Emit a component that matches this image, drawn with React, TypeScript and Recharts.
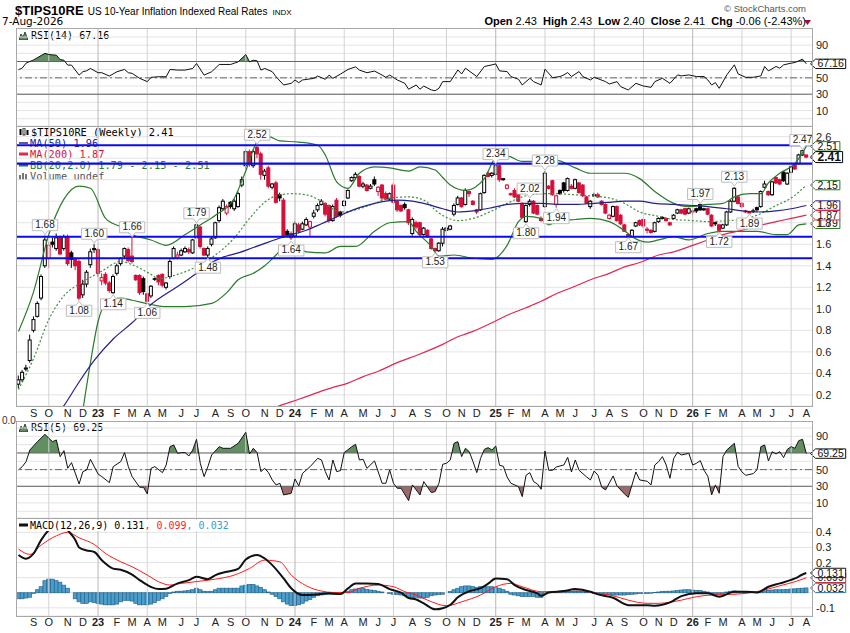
import React from "react";
import {
  ComposedChart,
  Line,
  Area,
  Bar,
  Scatter,
  XAxis,
  YAxis,
  CartesianGrid,
  ReferenceLine,
  ReferenceDot,
} from "recharts";

const RED = "#d4103a";
const NAVY = "#22228a";
const MA200_RED = "#e0284e";
const BB_GREEN = "#2c7a2c";
const LEVEL_BLUE = "#0a0af0";
const HIST_BLUE = "#4b9dcc";
const AXIS_FONT = "'Liberation Sans', Arial, sans-serif";
const MONO_FONT = "'DejaVu Sans Mono', monospace";

const FIRST_BAR_UTC = Date.UTC(2022, 7, 12);
const DAY_MS = 86400000;
const monthLetters = ["J", "F", "M", "A", "M", "J", "J", "A", "S", "O", "N", "D"];
const X_DOMAIN: [number, number] = [-0.66, 209.5];

// weekly bars: [open, high, low, close]
const weeklyBars = [
  [0.30,0.38,0.26,0.34],[0.34,0.43,0.32,0.41],[0.44,0.48,0.42,0.45],[0.52,0.76,0.50,0.71],[0.80,0.93,0.78,0.90],[0.93,1.07,0.92,1.05],[1.10,1.32,1.08,1.30],[1.40,1.68,1.38,1.64],[1.47,1.62,1.38,1.59],[1.62,1.66,1.57,1.60],
  [1.56,1.70,1.54,1.66],[1.66,1.68,1.50,1.51],[1.56,1.69,1.54,1.67],[1.67,1.69,1.40,1.42],[1.52,1.54,1.38,1.46],[1.46,1.48,1.36,1.40],[1.44,1.46,1.08,1.10],[1.13,1.27,1.10,1.23],[1.23,1.36,1.20,1.34],[1.41,1.56,1.38,1.53],
  [1.55,1.60,1.52,1.56],[1.55,1.56,1.30,1.33],[1.26,1.33,1.22,1.29],[1.32,1.34,1.22,1.24],[1.24,1.26,1.15,1.17],[1.15,1.32,1.14,1.30],[1.33,1.42,1.31,1.40],[1.42,1.48,1.40,1.47],[1.49,1.57,1.47,1.56],[1.55,1.57,1.43,1.45],
  [1.49,1.66,1.42,1.44],[1.31,1.32,1.26,1.27],[1.31,1.32,1.13,1.15],[1.28,1.30,1.13,1.16],[1.14,1.15,1.06,1.07],[1.12,1.22,1.10,1.21],[1.28,1.29,1.26,1.28],[1.31,1.32,1.22,1.25],[1.32,1.33,1.20,1.22],[1.20,1.25,1.18,1.24],
  [1.30,1.46,1.28,1.44],[1.47,1.58,1.46,1.56],[1.48,1.53,1.46,1.50],[1.50,1.56,1.49,1.54],[1.53,1.58,1.52,1.56],[1.55,1.57,1.51,1.53],[1.52,1.65,1.51,1.64],[1.66,1.79,1.65,1.78],[1.76,1.77,1.56,1.58],[1.56,1.57,1.49,1.50],
  [1.50,1.58,1.48,1.56],[1.60,1.67,1.58,1.65],[1.66,1.81,1.65,1.80],[1.82,1.96,1.80,1.94],[1.93,2.02,1.92,2.00],[1.89,1.97,1.87,1.95],[1.99,2.00,1.93,1.95],[1.93,2.02,1.91,2.00],[1.95,2.09,1.94,2.07],[2.15,2.23,2.13,2.20],
  [2.33,2.48,2.30,2.46],[2.46,2.48,2.32,2.34],[2.33,2.48,2.31,2.46],[2.50,2.52,2.40,2.44],[2.44,2.46,2.20,2.25],[2.24,2.30,2.20,2.28],[2.31,2.33,2.12,2.14],[2.13,2.17,2.11,2.16],[2.17,2.19,1.98,1.99],[2.06,2.08,2.00,2.03],
  [2.01,2.03,1.66,1.67],[1.72,1.74,1.67,1.69],[1.70,1.72,1.64,1.66],[1.68,1.81,1.66,1.79],[1.78,1.80,1.70,1.72],[1.74,1.81,1.73,1.79],[1.78,1.85,1.77,1.83],[1.76,1.82,1.67,1.81],[1.86,1.92,1.84,1.89],[1.92,1.98,1.90,1.96],
  [1.97,2.02,1.96,2.00],[1.98,1.99,1.86,1.88],[1.96,1.97,1.80,1.82],[1.82,1.97,1.81,1.95],[2.01,2.03,1.85,1.86],[1.90,1.91,1.85,1.87],[1.96,2.01,1.95,2.00],[2.03,2.11,2.02,2.10],[2.19,2.23,2.18,2.22],[2.22,2.27,2.20,2.25],
  [2.23,2.24,2.13,2.14],[2.14,2.18,2.12,2.16],[2.15,2.16,2.09,2.10],[2.12,2.16,2.11,2.14],[2.20,2.23,2.14,2.16],[2.09,2.14,2.05,2.13],[2.15,2.16,2.01,2.03],[2.07,2.09,2.01,2.02],[2.02,2.08,2.01,2.07],[2.15,2.17,1.98,1.99],
  [2.00,2.01,1.90,1.92],[1.96,1.97,1.90,1.91],[1.97,1.99,1.92,1.94],[1.92,1.93,1.78,1.80],[1.70,1.85,1.68,1.83],[1.80,1.82,1.74,1.76],[1.80,1.81,1.68,1.69],[1.69,1.76,1.68,1.75],[1.73,1.74,1.66,1.67],[1.65,1.66,1.55,1.56],
  [1.56,1.57,1.53,1.54],[1.54,1.62,1.53,1.61],[1.61,1.76,1.58,1.74],[1.73,1.76,1.71,1.75],[1.74,1.78,1.73,1.77],[1.88,1.98,1.86,1.96],[1.97,2.05,1.96,2.03],[2.03,2.04,1.94,1.95],[1.97,2.12,1.96,2.10],[2.09,2.10,2.04,2.07],
  [2.00,2.01,1.96,1.97],[1.92,1.93,1.88,1.90],[1.92,2.08,1.91,2.07],[2.08,2.25,2.07,2.24],[2.26,2.28,2.22,2.23],[2.24,2.27,2.22,2.26],[2.25,2.34,2.24,2.33],[2.33,2.34,2.18,2.20],[2.20,2.21,2.19,2.21],[2.12,2.16,2.11,2.15],
  [2.07,2.08,2.05,2.06],[2.10,2.12,2.03,2.04],[2.07,2.08,1.99,2.00],[1.98,1.99,1.84,1.85],[1.81,1.97,1.80,1.96],[1.97,2.02,1.95,2.00],[2.00,2.01,1.88,1.89],[1.96,1.97,1.87,1.88],[1.84,1.86,1.81,1.82],[1.95,2.28,1.94,2.26],
  [2.14,2.15,2.11,2.12],[2.19,2.20,2.05,2.06],[1.97,2.06,1.94,2.05],[2.10,2.11,2.06,2.07],[2.17,2.18,2.08,2.10],[2.10,2.22,2.09,2.21],[2.14,2.16,2.11,2.12],[2.12,2.21,2.11,2.20],[2.17,2.18,2.07,2.08],[2.15,2.16,2.04,2.05],
  [2.04,2.05,1.98,1.98],[1.95,2.01,1.93,2.00],[2.06,2.08,2.04,2.05],[2.06,2.08,2.03,2.04],[2.00,2.01,1.96,1.97],[1.97,1.98,1.88,1.89],[1.84,1.88,1.83,1.87],[1.86,1.96,1.85,1.95],[1.95,1.96,1.81,1.82],[1.87,1.88,1.78,1.79],
  [1.78,1.79,1.72,1.72],[1.69,1.70,1.67,1.68],[1.67,1.74,1.67,1.73],[1.77,1.81,1.76,1.80],[1.82,1.83,1.77,1.78],[1.83,1.84,1.75,1.77],[1.74,1.76,1.70,1.73],[1.73,1.74,1.70,1.71],[1.72,1.81,1.71,1.80],[1.81,1.85,1.80,1.84],
  [1.84,1.86,1.83,1.85],[1.84,1.85,1.81,1.82],[1.80,1.81,1.77,1.78],[1.84,1.88,1.83,1.87],[1.89,1.93,1.88,1.92],[1.92,1.93,1.88,1.89],[1.93,1.94,1.87,1.88],[1.89,1.94,1.88,1.93],[1.91,1.92,1.87,1.90],[1.93,1.94,1.89,1.91],
  [1.97,1.97,1.91,1.92],[1.92,1.94,1.91,1.93],[1.93,1.94,1.87,1.88],[1.87,1.88,1.76,1.77],[1.80,1.81,1.77,1.79],[1.78,1.79,1.72,1.73],[1.75,1.79,1.74,1.78],[1.78,1.91,1.77,1.90],[1.90,2.01,1.89,2.00],[2.00,2.13,1.99,2.12],
  [2.04,2.05,1.97,1.98],[1.98,1.99,1.94,1.95],[1.91,1.92,1.89,1.90],[1.90,1.91,1.89,1.89],[1.91,1.93,1.89,1.91],[1.94,1.95,1.90,1.92],[1.95,2.10,1.94,2.09],[2.13,2.19,2.12,2.16],[2.09,2.10,2.05,2.06],[2.06,2.19,2.05,2.18],
  [2.22,2.23,2.16,2.17],[2.20,2.21,2.15,2.16],[2.27,2.28,2.18,2.19],[2.16,2.27,2.15,2.26],[2.27,2.33,2.26,2.32],[2.34,2.35,2.29,2.30],[2.35,2.44,2.34,2.43],[2.43,2.47,2.42,2.47],[2.43,2.43,2.40,2.41],
];

const levelLines = [2.52, 2.35, 1.67, 1.47];

// overlays as [week index, value]
const ma50Points = [[11,0.05],[12,0.1],[16,0.32],[20,0.52],[25,0.72],[30,0.87],[35,1.04],[39,1.14],[43,1.23],[47,1.33],[50,1.41],[54,1.48],[58,1.52],[62,1.57],[66,1.62],[70,1.67],[76,1.73],[80,1.79],[85,1.87],[90,1.94],[94,1.98],[100,2.01],[104,2.0],[108,1.97],[112,1.93],[116,1.9],[120,1.91],[125,1.94],[129,1.97],[134,1.98],[138,1.98],[143,1.97],[147,1.97],[152,1.98],[156,1.99],[160,2.0],[164,2.0],[168,1.98],[173,1.97],[178,1.96],[182,1.95],[187,1.93],[191,1.91],[195,1.9],[200,1.91],[204,1.93],[208,1.96]];
const ma200Points = [[66,0.06],[69,0.1],[74,0.16],[78,0.21],[83,0.27],[87,0.31],[91,0.37],[95,0.42],[100,0.5],[106,0.58],[112,0.67],[116,0.74],[120,0.79],[125,0.87],[129,0.94],[134,1.01],[138,1.07],[142,1.14],[147,1.21],[151,1.27],[156,1.33],[160,1.39],[164,1.43],[169,1.5],[173,1.53],[178,1.59],[182,1.64],[186,1.69],[191,1.73],[195,1.77],[200,1.81],[204,1.84],[208,1.87]];
const bbMidPoints = [[0,0.25],[4,0.54],[8,0.9],[12,1.12],[17,1.25],[22,1.35],[27,1.44],[30,1.41],[35,1.32],[37,1.28],[42,1.32],[48,1.41],[52,1.5],[57,1.66],[61,1.84],[65,1.99],[68,2.05],[72,2.07],[76,2.06],[80,2.0],[85,1.9],[89,1.92],[94,1.98],[98,2.03],[103,2.04],[107,2.01],[111,1.89],[116,1.82],[120,1.84],[125,1.91],[129,1.98],[133,2.04],[138,2.07],[142,2.07],[147,2.06],[151,2.05],[156,2.03],[160,1.98],[164,1.9],[169,1.86],[173,1.83],[178,1.82],[182,1.81],[187,1.82],[191,1.83],[195,1.87],[200,1.96],[204,2.03],[208,2.15]];
const bbUpperPoints = [[0,0.79],[4,1.16],[8,1.69],[12,2.02],[16,2.14],[19,2.12],[23,1.84],[27,1.76],[30,1.69],[35,1.64],[39,1.59],[44,1.69],[48,1.78],[52,1.87],[57,2.03],[60,2.28],[63,2.55],[66,2.6],[69,2.56],[74,2.55],[79,2.52],[81,2.43],[84,2.18],[87,2.12],[90,2.26],[94,2.32],[98,2.31],[103,2.28],[106,2.32],[110,2.29],[112,2.22],[114,2.15],[118,2.1],[123,2.21],[126,2.4],[129,2.42],[133,2.37],[138,2.37],[142,2.38],[147,2.31],[151,2.26],[156,2.26],[160,2.26],[164,2.21],[168,2.09],[173,1.98],[177,1.95],[182,1.97],[186,1.98],[189,2.04],[193,2.07],[196,2.07],[198,2.17],[201,2.26],[205,2.35],[208,2.51]];
const bbLowerPoints = [[17,0.06],[19,0.5],[21,0.88],[23,1.05],[27,1.1],[30,1.08],[35,1.04],[39,1.02],[44,1.02],[51,1.05],[55,1.15],[58,1.27],[62,1.33],[65,1.4],[68,1.5],[70,1.57],[72,1.58],[76,1.53],[81,1.52],[85,1.58],[89,1.58],[94,1.72],[98,1.8],[103,1.81],[105,1.72],[109,1.58],[111,1.49],[115,1.5],[120,1.47],[125,1.46],[129,1.59],[132,1.81],[134,1.86],[138,1.84],[140,1.78],[142,1.81],[147,1.83],[151,1.84],[156,1.81],[159,1.75],[163,1.65],[166,1.62],[169,1.64],[173,1.67],[177,1.64],[182,1.7],[186,1.72],[191,1.72],[195,1.72],[200,1.69],[203,1.69],[206,1.78],[208,1.79]];

const rsi14Points = [[0,60],[1,62],[2,68],[4,72],[7,80],[8,78.5],[10,77.7],[11,72.4],[12,71.6],[13,65.6],[14,65.6],[16,53.4],[17,57.5],[18,58.7],[19,61.5],[21,56.3],[22,56.3],[24,52.2],[26,57.5],[28,60.3],[29,56.3],[30,55.5],[32,49.4],[34,45.4],[35,50.6],[37,51.4],[39,51.4],[40,60.3],[42,59.5],[44,59.5],[46,61.5],[47,67.6],[49,53.4],[51,57.5],[53,66.4],[56,66.4],[58,69.6],[60,78.5],[61,69.6],[62,71.6],[63,70.8],[64,59.5],[65,61.5],[67,57.5],[68,51.4],[70,41.3],[72,43.3],[73,47.4],[74,44.1],[75,47.4],[78,49.4],[79,52.2],[81,48.2],[82,53.4],[83,49.4],[85,54.6],[87,60.3],[89,63.5],[90,59.5],[92,56.3],[94,58.3],[96,53.4],[97,50.6],[98,53.4],[100,47.4],[101,45.4],[102,43.3],[103,36.1],[105,41.3],[106,36.1],[107,40],[109,35.2],[110,34.3],[111,37.2],[112,45.4],[114,45.4],[116,59.7],[117,54.8],[118,61.8],[121,51.6],[123,63.9],[125,65.9],[126,67.1],[127,58.5],[129,57.7],[130,51.6],[132,48.3],[133,41.3],[135,49.5],[136,45.4],[138,41.3],[139,60.6],[141,50.3],[143,51.6],[144,53.6],[145,56.5],[146,51.6],[148,57.7],[149,51.6],[151,47.4],[152,50.7],[155,45.4],[156,42.5],[158,45.4],[159,39.2],[161,35.2],[163,43.3],[165,40],[167,38.4],[168,45.4],[170,49.5],[172,43.3],[174,53.6],[175,52.4],[177,53.6],[179,51.6],[181,51.6],[182,47.4],[183,41.3],[184,44.2],[185,37.2],[187,53.6],[189,65.9],[190,54.8],[192,50.7],[194,50.7],[196,52.4],[197,63.9],[198,58.5],[200,63.9],[201,61.8],[202,65.9],[204,68],[205,68.8],[206,70.8],[207,72.9],[208,67.16]];
const rsi5Points = [[0,49.6],[1,53.6],[2,59.6],[3,73.6],[5,83.6],[7,92.4],[8,87.6],[9,83.6],[10,85.6],[11,65.6],[12,72.8],[13,51.6],[14,58.4],[16,32.8],[17,47.6],[18,49.6],[19,62.4],[21,44.8],[22,41.6],[24,34.4],[25,53.6],[27,59.6],[28,70.4],[29,53.6],[30,41.6],[32,28.8],[33,28.8],[34,20.8],[35,51.6],[36,53.6],[38,46.4],[39,55.6],[40,77.6],[41,79.6],[42,69.6],[43,70.4],[44,70.4],[45,66.4],[46,73.6],[47,86.4],[48,57.6],[49,41.6],[50,53.6],[51,67.6],[53,77.6],[54,75.6],[56,75.6],[58,81.6],[60,94.8],[61,68.8],[62,75.6],[63,70.4],[64,47.6],[65,51.6],[66,46.4],[67,37.6],[68,31.6],[69,33.6],[70,19.6],[72,21.6],[73,38.8],[74,30.4],[75,45.6],[77,53.6],[79,63.6],[80,61.6],[81,47.6],[82,37.6],[83,61.6],[84,47.6],[85,48.8],[86,70.4],[88,77.6],[89,80.4],[90,61.6],[91,62.4],[92,51.6],[94,60.4],[96,33.6],[97,33.6],[98,49.6],[99,33.6],[100,27.6],[101,27.6],[103,12.8],[104,31.6],[106,19.6],[107,35.6],[109,22.4],[110,23.6],[111,33.6],[112,56.4],[113,57.6],[114,61.6],[115,81.6],[116,83.6],[117,65.6],[118,75.6],[119,71.6],[120,59.6],[121,46.4],[122,63.6],[123,74.4],[124,76.4],[125,73.6],[126,78.4],[127,55.2],[128,54],[129,41.2],[130,33.6],[132,29.6],[133,17.6],[134,43.2],[135,46.4],[136,35.6],[137,32.8],[138,26.4],[139,72.4],[140,49.2],[141,49.2],[142,53.2],[144,55.6],[145,64.8],[146,47.2],[147,61.6],[148,49.2],[150,41.2],[151,37.6],[152,48.4],[153,43.2],[154,28.8],[155,25.6],[157,42.4],[158,30.4],[160,20.8],[161,16.8],[163,47.2],[164,37.6],[166,36],[167,31.6],[168,55.6],[169,59.6],[170,65.6],[171,55.6],[172,39.6],[173,63.6],[174,70.8],[175,67.6],[177,69.6],[178,55.6],[179,57.6],[180,60.8],[181,49.2],[182,42],[183,19.6],[184,31.6],[185,21.6],[186,65.6],[187,73.6],[189,81.6],[190,54],[191,47.2],[192,43.2],[194,45.2],[195,50],[196,77.6],[197,79.6],[198,60.4],[199,71.6],[200,68.8],[201,71.6],[202,64.4],[203,74.4],[204,77.6],[205,75.6],[206,84.8],[207,86.4],[208,69.25]];

const macdPoints = [[0,0.25],[2,0.225],[4,0.26],[6,0.35],[8,0.415],[10,0.45],[12,0.45],[13,0.415],[15,0.35],[16,0.3],[18,0.28],[20,0.27],[22,0.215],[25,0.16],[27,0.152],[30,0.12],[32,0.084],[35,0.038],[37,0.024],[39,0.027],[42,0.062],[45,0.084],[47,0.106],[50,0.09],[52,0.117],[55,0.139],[58,0.158],[60,0.22],[63,0.25],[65,0.227],[67,0.183],[70,0.095],[72,0.03],[75,-0.015],[78,-0.013],[82,-0.004],[85,-0.008],[87,0.029],[89,0.062],[92,0.062],[95,0.058],[98,0.024],[101,0.0],[103,-0.035],[105,-0.045],[107,-0.07],[110,-0.11],[114,-0.08],[116,-0.03],[119,0.01],[122,0.03],[124,0.06],[126,0.095],[129,0.09],[131,0.05],[134,0.018],[137,-0.004],[138,-0.02],[140,0.002],[144,0.011],[147,0.024],[151,0.007],[153,-0.011],[157,-0.033],[161,-0.082],[166,-0.082],[168,-0.086],[172,-0.064],[175,-0.022],[179,-0.004],[182,-0.004],[185,-0.026],[189,0.007],[192,0.007],[195,0.002],[198,0.04],[201,0.062],[205,0.095],[207,0.121],[208,0.131]];
const signalPoints = [[0,0.289],[3,0.254],[6,0.316],[10,0.377],[13,0.4],[16,0.364],[20,0.32],[23,0.26],[27,0.205],[30,0.172],[34,0.117],[37,0.073],[40,0.051],[43,0.062],[48,0.077],[52,0.09],[57,0.117],[61,0.161],[65,0.216],[69,0.205],[72,0.117],[76,0.046],[80,0.011],[83,0.002],[87,0.002],[90,0.029],[95,0.051],[99,0.04],[102,0.007],[105,-0.015],[108,-0.049],[113,-0.086],[117,-0.06],[122,-0.015],[126,0.04],[130,0.062],[133,0.04],[138,0.007],[144,0.007],[148,0.011],[153,-0.004],[157,-0.02],[161,-0.049],[166,-0.07],[169,-0.07],[175,-0.049],[179,-0.026],[183,-0.015],[188,-0.011],[192,-0.004],[197,0.018],[201,0.046],[205,0.073],[208,0.099]];
const histValues = [
  -0.04,-0.04,-0.035,-0.03,-0.005,0.02,0.04,0.08,0.09,0.09,
  0.08,0.07,0.05,0.03,0.0,-0.04,-0.06,-0.07,-0.07,-0.06,
  -0.065,-0.07,-0.075,-0.08,-0.08,-0.08,-0.075,-0.06,-0.05,-0.05,
  -0.055,-0.07,-0.08,-0.08,-0.08,-0.075,-0.065,-0.05,-0.04,-0.025,
  -0.005,0.005,0.01,0.01,0.012,0.015,0.02,0.03,0.02,0.01,
  0.008,0.01,0.02,0.03,0.03,0.03,0.03,0.03,0.03,0.045,
  0.05,0.055,0.055,0.045,0.035,0.02,0.005,-0.01,-0.025,-0.04,
  -0.06,-0.075,-0.085,-0.085,-0.08,-0.07,-0.055,-0.045,-0.03,-0.02,
  -0.015,-0.012,-0.01,-0.01,-0.01,-0.008,0.0,0.01,0.02,0.025,
  0.03,0.03,0.022,0.018,0.015,0.01,0.005,0.0,-0.005,-0.01,
  -0.012,-0.015,-0.02,-0.03,-0.033,-0.03,-0.035,-0.035,-0.03,-0.02,
  -0.015,-0.012,-0.01,0.0,0.008,0.02,0.03,0.04,0.045,0.045,
  0.04,0.035,0.04,0.04,0.04,0.04,0.035,0.03,0.02,0.01,
  -0.01,-0.015,-0.02,-0.025,-0.025,-0.025,-0.025,-0.03,-0.03,-0.005,
  0.0,0.005,0.008,0.01,0.01,0.01,0.01,0.012,0.01,0.01,
  0.005,0.0,-0.005,-0.008,-0.01,-0.012,-0.012,-0.015,-0.015,-0.015,
  -0.015,-0.012,-0.01,-0.008,-0.005,-0.005,-0.005,-0.003,0.002,0.005,
  0.008,0.01,0.01,0.012,0.015,0.018,0.02,0.02,0.018,0.015,
  0.015,0.01,0.005,-0.005,-0.01,-0.01,-0.005,0.005,0.01,0.012,
  0.01,0.008,0.005,0.005,0.005,0.005,0.008,0.012,0.015,0.018,
  0.02,0.02,0.02,0.022,0.025,0.026,0.028,0.03,0.032,
];

// swing labels: [week, value, side]
const callouts = [
  [7,1.68,"up"],[20,1.6,"up"],[30,1.66,"up"],[16,1.08,"down"],[25,1.14,"down"],[34,1.06,"down"],
  [47,1.79,"up"],[50,1.48,"down"],[63,2.52,"up"],[72,1.64,"down"],[110,1.53,"down"],[126,2.34,"up"],
  [134,1.8,"down"],[135,2.02,"up"],[139,2.28,"up"],[142,1.94,"down"],[161,1.67,"down"],[180,1.97,"up"],
  [185,1.72,"down"],[189,2.13,"up"],[193,1.89,"down"],[207,2.47,"up"],
];

// axis labels (those hidden behind the value tags on the right are left out)
const priceTicks = [0.2,0.4,0.6,0.8,1.0,1.2,1.4,1.6,1.8,2.0,2.2,2.4,2.6];
const priceTickLabels = ["0.2","0.4","0.6","0.8","1.0","1.2","1.4","1.6","1.8","","","","2.6"];
const rsiTicks = [0,10,20,30,40,50,60,70,80,90,100];
const rsiTickLabels = ["","10","","30","","50","","","","90",""];
const macdTicks = [-0.1,0,0.1,0.2,0.3,0.4];
const macdTickLabels = ["-0.1","","","0.2","0.3","0.4"];

const barRows = weeklyBars.map(([o, h, l, c], i) => ({
  i, o, h, l, c, range: [l, h], prev: i > 0 ? weeklyBars[i - 1][3] : o,
}));
const toRows = (pts: number[][]) => pts.map(([i, v]) => ({ i, v }));
const histRows = histValues.map((v, i) => ({ i, v }));
const calloutRows = callouts.map(([i, v, side]) => ({ i, v, t: (v as number).toFixed(2), up: side === "up" }));

const monthTicks: { i: number; label: string; year: boolean; quarter: boolean }[] = [];
weeklyBars.forEach((_, i) => {
  if (i === 0) return;
  const mon = new Date(FIRST_BAR_UTC + (i * 7 - 4) * DAY_MS);
  const prevMon = new Date(FIRST_BAR_UTC + ((i - 1) * 7 - 4) * DAY_MS);
  const m = mon.getUTCMonth();
  if (m !== prevMon.getUTCMonth()) {
    monthTicks.push({
      i,
      label: m === 0 ? String(mon.getUTCFullYear() % 100) : monthLetters[m],
      year: m === 0,
      quarter: m % 3 === 0,
    });
  }
});
const tickInfo = new Map(monthTicks.map((t) => [t.i, t]));
const tickIdx = monthTicks.map((t) => t.i);
const quarterTicks = monthTicks.filter((t) => t.quarter);

function MonthTick(props: any) {
  const { x, y, payload, dy } = props;
  const info = tickInfo.get(payload.value);
  if (!info) return null;
  return (
    <text x={x} y={y + dy} textAnchor="middle" fontSize={11} fontFamily={AXIS_FONT}
      fontWeight={info.year ? 700 : 400} fill="#222">
      {info.label}
    </text>
  );
}

function Candle(props: any) {
  const { x, y, width, height, payload } = props;
  if (x == null || y == null || !payload) return null;
  const { o, h, l, c, prev } = payload;
  const cx = x + width / 2;
  const span = h - l || 1;
  const py = (v: number) => y + ((h - v) / span) * height;
  const color = c >= prev ? "#000" : RED;
  const top = py(Math.max(o, c));
  const bot = py(Math.min(o, c));
  return (
    <g>
      <line x1={cx} x2={cx} y1={y} y2={y + height} stroke={color} strokeWidth={1} />
      <rect x={cx - 1.5} y={top} width={3} height={Math.max(bot - top, 0.6)}
        fill={c > o ? "#fff" : color} stroke={color} strokeWidth={1} />
    </g>
  );
}

function HistBar(props: any) {
  const { x, y, width, height } = props;
  if (x == null || !height) return null;
  const cx = x + width / 2;
  const top = Math.min(y, y + height);
  return <rect x={cx - 1.9} y={top} width={3.8} height={Math.abs(height)} fill={HIST_BLUE} stroke="#25678e" strokeWidth={0.7} />;
}

function Callout(props: any) {
  const { cx, cy, payload } = props;
  if (cx == null) return null;
  const w = payload.t.length * 5.6 + 3;
  const hh = 11;
  const l = cx - w / 2;
  const r = cx + w / 2;
  let d: string;
  let ty: number;
  if (payload.up) {
    const b = cy - 5;
    d = `M${l},${b - hh} H${r} V${b} H${cx + 3} L${cx},${cy - 1} L${cx - 3},${b} H${l} Z`;
    ty = b - 2.5;
  } else {
    const t = cy + 5;
    d = `M${l},${t} H${cx - 3} L${cx},${cy + 1} L${cx + 3},${t} H${r} V${t + hh} H${l} Z`;
    ty = t + hh - 2.5;
  }
  return (
    <g>
      <path d={d} fill="#fff" stroke="#bdbdbd" strokeWidth={1} />
      <text x={cx} y={ty} textAnchor="middle" fontSize={10} fontFamily={AXIS_FONT} fill="#222">{payload.t}</text>
    </g>
  );
}

function PriceTag({ cy, text, color, bold }: any) {
  if (cy == null) return null;
  const x0 = 810.5;
  const w = text.replace(".", "").length * (bold ? 6.7 : 5.8) + 3 + 4;
  const hh = bold ? 5.5 : 4.7;
  return (
    <g>
      <path d={`M${x0},${cy} L${x0 + 5},${cy - hh} H${x0 + 5 + w} V${cy + hh} H${x0 + 5} Z`}
        fill="#fff" stroke={color} strokeWidth={1} />
      <text x={x0 + 7} y={cy + (bold ? 4.2 : 3.6)} fontSize={bold ? 12 : 10.5} fontWeight={bold ? 700 : 400}
        fontFamily={AXIS_FONT} fill="#111">{text}</text>
    </g>
  );
}

const tag = (y: number, text: string, color: string, bold = false) => (
  <ReferenceDot key={text + color} x={208} y={y} r={0} ifOverflow="visible"
    shape={(p: any) => <PriceTag cy={p.cy} text={text} color={color} bold={bold} />} />
);

const yTick = (ticks: number[], labels: string[]) => (p: any) => {
  const s = labels[ticks.indexOf(p.payload.value)];
  if (!s) return null;
  return (
    <text x={p.x} y={p.y + 4} textAnchor="start" fontSize={11} fontFamily={AXIS_FONT} fill="#222">{s}</text>
  );
};

const quarterLines = () =>
  quarterTicks.map((t) => (
    <ReferenceLine key={"q" + t.i} x={t.i} stroke={t.year ? "#b8b8b8" : "#d2d2d2"} strokeWidth={1} />
  ));

function RsiPanel({ rows, dMin, dMax, height, id, last, lastText }: any) {
  const y70 = ((dMax - 70) / (dMax - dMin)) * height;
  const y30 = ((dMax - 30) / (dMax - dMin)) * height;
  return (
    <ComposedChart width={850} height={height} data={rows} margin={{ top: 0, right: 0, bottom: 0, left: 16 }}>
      <defs>
        <linearGradient id={id + "up"} gradientUnits="userSpaceOnUse" x1="0" y1="0" x2="0" y2={height}>
          <stop offset={y70 / height} stopColor="#628f62" />
          <stop offset={y70 / height} stopColor="#628f62" stopOpacity={0} />
        </linearGradient>
        <linearGradient id={id + "dn"} gradientUnits="userSpaceOnUse" x1="0" y1="0" x2="0" y2={height}>
          <stop offset={y30 / height} stopColor="#9c6a6a" stopOpacity={0} />
          <stop offset={y30 / height} stopColor="#9c6a6a" />
        </linearGradient>
      </defs>
      <CartesianGrid vertical={false} stroke="#e4e4e4" />
      {quarterLines()}
      <XAxis type="number" dataKey="i" domain={X_DOMAIN} allowDataOverflow hide />
      <YAxis orientation="right" width={38} domain={[dMin, dMax]} allowDataOverflow ticks={rsiTicks}
        interval={0} tickLine={false} axisLine={false} tickSize={0} tickMargin={4}
        tick={yTick(rsiTicks, rsiTickLabels)} />
      <Area dataKey="v" baseValue={70} type="linear" stroke="none" fill={`url(#${id}up)`} fillOpacity={1} isAnimationActive={false} />
      <Area dataKey="v" baseValue={30} type="linear" stroke="none" fill={`url(#${id}dn)`} fillOpacity={1} isAnimationActive={false} />
      <ReferenceLine y={70} stroke="#666" />
      <ReferenceLine y={50} stroke="#666" strokeDasharray="7 3 2 3" />
      <ReferenceLine y={30} stroke="#666" />
      <Line dataKey="v" type="linear" stroke="#111" strokeWidth={1} dot={false} isAnimationActive={false} />
      {tag(last, lastText, "#111")}
    </ComposedChart>
  );
}

function PriceChart() {
  return (
    <ComposedChart width={850} height={294} data={barRows} margin={{ top: 0, right: 0, bottom: 0, left: 16 }}>
      <CartesianGrid vertical={false} stroke="#e4e4e4" />
      {quarterLines()}
      <XAxis type="number" dataKey="i" domain={X_DOMAIN} allowDataOverflow ticks={tickIdx} interval={0}
        height={14} tickLine={false} axisLine={false} tickSize={0} tickMargin={0}
        tick={(p: any) => <MonthTick {...p} dy={11} />} />
      <YAxis orientation="right" width={38} domain={[0.097, 2.699]} allowDataOverflow ticks={priceTicks}
        interval={0} tickLine={false} axisLine={false} tickSize={0} tickMargin={4}
        tick={yTick(priceTicks, priceTickLabels)} />
      <Bar dataKey="range" barSize={4} shape={Candle} isAnimationActive={false} />
      <Line data={toRows(bbUpperPoints)} dataKey="v" type="monotone" stroke={BB_GREEN} strokeWidth={1.2} dot={false} isAnimationActive={false} />
      <Line data={toRows(bbLowerPoints)} dataKey="v" type="monotone" stroke={BB_GREEN} strokeWidth={1.2} dot={false} isAnimationActive={false} />
      <Line data={toRows(bbMidPoints)} dataKey="v" type="monotone" stroke="#3f8f3f" strokeWidth={1.2} strokeDasharray="2 2" dot={false} isAnimationActive={false} />
      <Line data={toRows(ma200Points)} dataKey="v" type="monotone" stroke={MA200_RED} strokeWidth={1.2} dot={false} isAnimationActive={false} />
      <Line data={toRows(ma50Points)} dataKey="v" type="monotone" stroke={NAVY} strokeWidth={1.2} dot={false} isAnimationActive={false} />
      {levelLines.map((v) => (
        <ReferenceLine key={"lv" + v} y={v} stroke={LEVEL_BLUE} strokeWidth={2.2} />
      ))}
      <Scatter data={calloutRows} dataKey="v" shape={Callout} isAnimationActive={false} />
      {tag(2.51, "2.51", BB_GREEN)}
      {tag(2.15, "2.15", BB_GREEN)}
      {tag(1.79, "1.79", BB_GREEN)}
      {tag(1.96, "1.96", NAVY)}
      {tag(1.87, "1.87", MA200_RED)}
      {tag(2.41, "2.41", "#000", true)}
    </ComposedChart>
  );
}

function MacdChart() {
  return (
    <ComposedChart width={850} height={112} data={histRows} margin={{ top: 0, right: 0, bottom: 0, left: 16 }}>
      <CartesianGrid vertical={false} stroke="#e4e4e4" />
      {quarterLines()}
      <XAxis type="number" dataKey="i" domain={X_DOMAIN} allowDataOverflow ticks={tickIdx} interval={0}
        height={14} tickLine={false} axisLine={false} tickSize={0} tickMargin={0}
        tick={(p: any) => <MonthTick {...p} dy={10} />} />
      <YAxis orientation="right" width={38} domain={[-0.154, 0.495]} allowDataOverflow ticks={macdTicks}
        interval={0} tickLine={false} axisLine={false} tickSize={0} tickMargin={4}
        tick={yTick(macdTicks, macdTickLabels)} />
      <Bar dataKey="v" barSize={4} shape={HistBar} isAnimationActive={false} />
      <Line data={toRows(signalPoints)} dataKey="v" type="monotone" stroke="#ff1a1a" strokeWidth={1} dot={false} isAnimationActive={false} />
      <Line data={toRows(macdPoints)} dataKey="v" type="monotone" stroke="#111" strokeWidth={2} dot={false} isAnimationActive={false} />
      {tag(0.099, "0.099", "#ff1a1a")}
      {tag(0.131, "0.131", "#111")}
      {tag(0.032, "0.032", "#2f6f9f")}
    </ComposedChart>
  );
}

const abs = (top: number, extra: any = {}) => ({ position: "absolute" as const, left: 0, top, ...extra });

function Box({ top, height }: { top: number; height: number }) {
  return (
    <div style={{ position: "absolute", left: 16, top, width: 797, height: height + 1, boxSizing: "border-box",
      border: "1px solid #a8a8a8", pointerEvents: "none", zIndex: 5 }} />
  );
}

const mountainIcon = (
  <svg width="9" height="8" style={{ marginRight: 3, verticalAlign: "-1px" }}>
    <polygon points="0,8 2,2 4,5 6,0 9,8" fill="#628f62" stroke="#222" strokeWidth="0.8" />
  </svg>
);
const swatch = (color: string, h = 2) => (
  <svg width="9" height="8" style={{ marginRight: 2, verticalAlign: "0px" }}>
    <rect x="0" y={4 - h / 2} width="9" height={h} fill={color} />
  </svg>
);

const legendStyle = { position: "absolute" as const, left: 19, fontFamily: MONO_FONT, fontSize: 10.3, whiteSpace: "pre" as const, lineHeight: "11px" };

export default function App() {
  return (
    <div style={{ position: "absolute", left: 0, top: 0, width: 850, height: 633, background: "#fff", overflow: "hidden" }}>
      {/* header */}
      <div style={{ position: "absolute", left: 15, top: 1, whiteSpace: "nowrap", fontFamily: AXIS_FONT, color: "#000" }}>
        <span style={{ fontSize: 13, fontWeight: 700 }}>$TIPS10RE</span>
        <span style={{ fontSize: 10, marginLeft: 4 }}>US 10-Year Inflation Indexed Real Rates</span>
        <span style={{ fontSize: 8, marginLeft: 5 }}>INDX</span>
      </div>
      <div style={{ position: "absolute", left: 2, top: 15, fontFamily: "'DejaVu Sans', sans-serif", fontSize: 10.5, color: "#000" }}>7-Aug-2026</div>
      <div style={{ position: "absolute", left: 724, top: 3, fontFamily: AXIS_FONT, fontSize: 9.5, color: "#555" }}>© StockCharts.com</div>
      <div style={{ position: "absolute", right: 44, top: 15, fontFamily: AXIS_FONT, fontSize: 11, color: "#000", whiteSpace: "pre" }}>
        <b>Open</b> 2.43  <b>High</b> 2.43  <b>Low</b> 2.40  <b>Close</b> 2.41  <b>Chg</b> -0.06 (-2.43%)
      </div>
      <svg style={{ position: "absolute", left: 804, top: 20 }} width="8" height="6">
        <polygon points="0,0 7,0 3.5,5" fill="#9e1030" />
      </svg>

      {/* legends drawn beneath the plots */}
      <div style={{ ...legendStyle, top: 30, fontSize: 10, zIndex: 1 }}>{mountainIcon}RSI(14) 67.16</div>
      <div style={{ ...legendStyle, top: 126.5, zIndex: 1 }}>
        <div>
          <svg width="10" height="8" style={{ marginRight: 2 }}>
            <rect x="0.5" y="1" width="2" height="6" fill="#000" />
            <rect x="4" y="0" width="2" height="7" fill="none" stroke="#000" strokeWidth="0.8" />
            <rect x="7.5" y="2" width="2" height="5" fill="#000" />
          </svg>
          $TIPS10RE (Weekly) 2.41
        </div>
        <div style={{ color: NAVY }}>{swatch(NAVY, 1.5)}MA(50) 1.96</div>
        <div style={{ color: RED }}>{swatch(MA200_RED, 3)}MA(200) 1.87</div>
        <div style={{ color: BB_GREEN }}>{swatch(BB_GREEN, 3)}BB(20,2.0) 1.79 - 2.15 - 2.51</div>
        <div style={{ color: "#555" }}>
          <svg width="9" height="8" style={{ marginRight: 2 }}>
            <rect x="0" y="3" width="2" height="5" fill="#777" />
            <rect x="3" y="1" width="2" height="7" fill="#777" />
            <rect x="6" y="2" width="2" height="6" fill="#777" />
          </svg>
          Volume undef
        </div>
      </div>
      <div style={{ ...legendStyle, top: 422, fontSize: 10, zIndex: 1 }}>{mountainIcon}RSI(5) 69.25</div>
      <div style={{ position: "absolute", left: 2, top: 415, fontFamily: AXIS_FONT, fontSize: 10, color: "#333" }}>0.0</div>

      {/* plots */}
      <div style={abs(28, { zIndex: 2 })}>
        <RsiPanel rows={toRows(rsi14Points)} dMin={-8.9} dMax={111} height={98} id="r14" last={67.16} lastText="67.16" />
      </div>
      <div style={abs(126, { zIndex: 2 })}>
        <PriceChart />
      </div>
      <div style={abs(421, { zIndex: 2 })}>
        <RsiPanel rows={toRows(rsi5Points)} dMin={-8.1} dMax={108.4} height={97} id="r5" last={69.25} lastText="69.25" />
      </div>
      <div style={abs(518, { zIndex: 2 })}>
        <MacdChart />
      </div>

      {/* MACD legend sits over the lines */}
      <div style={{ ...legendStyle, top: 519.5, fontSize: 10, zIndex: 4, background: "#fff", paddingRight: 2 }}>
        {swatch("#111", 3)}MACD(12,26,9) 0.131<span style={{ color: "#ff1a1a" }}>, 0.099</span>
        <span style={{ color: "#3d9bd0" }}>, 0.032</span>
      </div>

      {/* panel frames */}
      <Box top={28} height={98} />
      <Box top={126} height={280} />
      <Box top={421} height={97} />
      <Box top={518} height={98} />
    </div>
  );
}
